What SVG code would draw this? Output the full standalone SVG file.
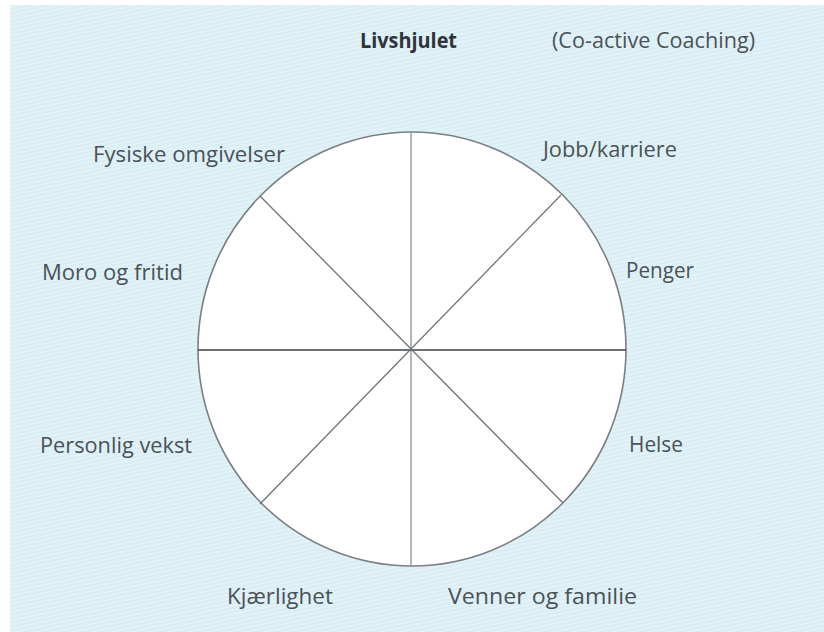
<svg xmlns="http://www.w3.org/2000/svg" width="824" height="632" viewBox="0 0 824 632">
  <defs>
    <pattern id="hatch" width="7" height="4" patternUnits="userSpaceOnUse" patternTransform="rotate(-12)">
      <rect width="7" height="4" fill="#d9eef4"/>
      <line x1="0" y1="1.2" x2="7" y2="1.2" stroke="#e9f6f9" stroke-width="1.2"/>
    </pattern>
  </defs>
  <style>
    .lbl { font-family: "Open Sans", "Noto Sans", sans-serif; font-size: 22px; fill: #4b5257; }
    .title { font-family: "Open Sans", "Noto Sans", sans-serif; font-size: 22px; font-weight: bold; fill: #2f3438; }
    .spoke { stroke: #6f7478; stroke-width: 1.3; }
  </style>
  <rect x="0" y="0" width="824" height="632" fill="#ffffff"/>
  <rect x="10" y="5" width="814" height="627" fill="url(#hatch)"/>

  <g id="title">
    <text class="title" x="360" y="48" textLength="97" lengthAdjust="spacingAndGlyphs">Livshjulet</text>
    <text class="lbl" x="552" y="48" textLength="203" lengthAdjust="spacingAndGlyphs">(Co-active Coaching)</text>
  </g>

  <g id="wheel">
    <ellipse cx="412" cy="349" rx="214" ry="217" fill="#ffffff" stroke="#7a7f83" stroke-width="1.6"/>
  </g>

  <g id="connectors">
    <line class="spoke" x1="411" y1="132" x2="411" y2="566" style="stroke:#8a8f93"/>
    <line class="spoke" x1="198" y1="350" x2="626" y2="350" style="stroke:#3c4145"/>
    <line class="spoke" x1="260" y1="196" x2="563" y2="503"/>
    <line class="spoke" x1="561" y1="195" x2="260" y2="504"/>
  </g>

  <g id="n-fysiske"><text class="lbl" x="93" y="162" textLength="192" lengthAdjust="spacingAndGlyphs">Fysiske omgivelser</text></g>
  <g id="n-jobb"><text class="lbl" x="543" y="157" textLength="134" lengthAdjust="spacingAndGlyphs">Jobb/karriere</text></g>
  <g id="n-moro"><text class="lbl" x="42" y="280" textLength="141" lengthAdjust="spacingAndGlyphs">Moro og fritid</text></g>
  <g id="n-penger"><text class="lbl" x="626" y="278" textLength="68" lengthAdjust="spacingAndGlyphs">Penger</text></g>
  <g id="n-personlig"><text class="lbl" x="40" y="453" textLength="152" lengthAdjust="spacingAndGlyphs">Personlig vekst</text></g>
  <g id="n-helse"><text class="lbl" x="629" y="452" textLength="54" lengthAdjust="spacingAndGlyphs">Helse</text></g>
  <g id="n-kjaerlighet"><text class="lbl" x="227" y="604" textLength="106" lengthAdjust="spacingAndGlyphs">Kjærlighet</text></g>
  <g id="n-venner"><text class="lbl" x="448" y="604" textLength="189" lengthAdjust="spacingAndGlyphs">Venner og familie</text></g>
</svg>
